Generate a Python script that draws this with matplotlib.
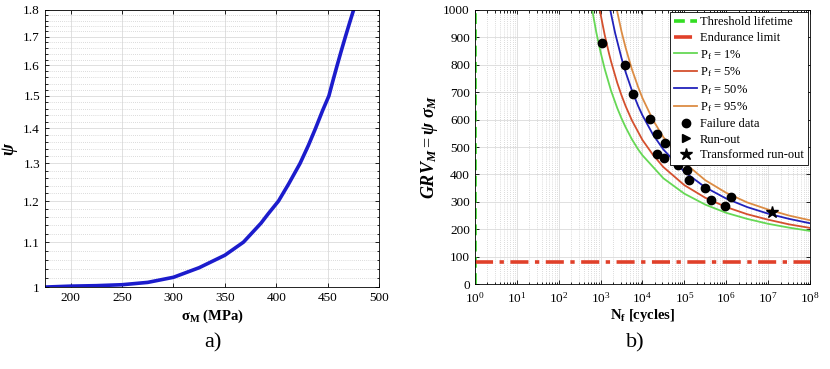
import numpy as np
import matplotlib
matplotlib.use("Agg")
import matplotlib.pyplot as plt
from matplotlib.ticker import FixedLocator, FixedFormatter, MultipleLocator, LogLocator, NullFormatter

plt.rcParams['font.family'] = ['Liberation Serif', 'DejaVu Serif']
plt.rcParams['mathtext.fontset'] = 'custom'
plt.rcParams['mathtext.rm'] = 'Liberation Serif'
plt.rcParams['mathtext.it'] = 'Liberation Serif:bold:italic'
plt.rcParams['mathtext.bf'] = 'Liberation Serif:bold'

# panel a) psi vs sigma_M
sigma_m = [175, 200, 225, 250, 275, 300, 325, 350, 368, 385, 392, 402, 412, 423, 431,
           438, 445, 451, 455, 459, 463, 467, 471, 475]
psi = [1.000, 1.002, 1.003, 1.005, 1.010, 1.021, 1.042, 1.070, 1.100, 1.145, 1.168, 1.200,
       1.245, 1.300, 1.350, 1.400, 1.455, 1.500, 1.550, 1.600, 1.650, 1.700, 1.750, 1.800]
psi_ticks = [1.0, 1.1, 1.2, 1.3, 1.4, 1.5, 1.6, 1.7, 1.8]
psi_ticklabels = ['1', '1.1', '1.2', '1.3', '1.4', '1.5', '1.6', '1.7', '1.8']

# panel b) GRV_M vs N_f, curves read at log10(N) positions
logn_p1 = [2.8, 2.9, 3.0, 3.1, 3.25, 3.4, 3.5, 3.6, 3.75, 3.9, 4.0, 4.5, 5.0, 5.5, 6.0, 6.5, 7.0, 7.5, 8.0]
grv_p1 = [1002, 918, 847, 785, 706, 642, 605, 572, 528, 491, 470, 386, 330, 290, 260, 238, 220, 206, 194]
logn_p5 = [2.95, 3.0, 3.1, 3.2, 3.25, 3.4, 3.5, 3.6, 3.75, 4.0, 4.25, 4.5, 5.0, 5.5, 6.0, 6.5, 7.0, 7.5, 8.0]
grv_p5 = [1029, 986, 909, 843, 813, 734, 689, 649, 597, 526, 472, 427, 361, 315, 281, 255, 235, 218, 205]
logn_p50 = [3.2, 3.25, 3.35, 3.5, 3.6, 3.75, 3.9, 4.0, 4.25, 4.5, 5.0, 5.5, 6.0, 6.5, 7.0, 7.5, 8.0]
grv_p50 = [1026, 987, 915, 825, 773, 706, 649, 616, 546, 491, 410, 353, 312, 281, 257, 238, 222]
logn_p95 = [3.35, 3.5, 3.6, 3.75, 3.9, 4.0, 4.25, 4.5, 5.0, 5.5, 6.0, 6.5, 7.0, 7.5, 8.0]
grv_p95 = [1029, 922, 862, 783, 718, 679, 599, 536, 443, 379, 333, 298, 272, 250, 233]

logn_fail = [3.03, 3.59, 3.78, 4.18, 4.34, 4.53, 4.355, 4.51, 4.86, 5.06, 5.10, 5.49, 5.63, 5.96, 6.12]
grv_fail = [879, 800, 694, 603, 546, 516, 476, 459, 433, 415, 379, 350, 306, 286, 317]
logn_runout = []
grv_runout = []
logn_transformed = [7.09]
grv_transformed = [263]

threshold_n = 1
endurance_limit = 80

fig = plt.figure(figsize=(8.30, 3.69), dpi=100)
ax1 = fig.add_axes([0.054, 0.222, 0.403, 0.751])
ax2 = fig.add_axes([0.572, 0.230, 0.404, 0.743])

def matlab_style(ax):
    ax.tick_params(which='both', direction='in', top=True, right=True,
                   labelsize=9.5, length=3, width=0.6)
    ax.tick_params(which='minor', length=1.8)
    for sp in ax.spines.values():
        sp.set_linewidth(0.6)
    ax.set_axisbelow(True)

# ---- a)
ax1.plot(sigma_m, psi, color='#1c1ccc', lw=2.6)
ax1.set_yscale('log')
ax1.set_xlim(175, 500)
ax1.set_ylim(1.0, 1.8)
ax1.xaxis.set_major_locator(MultipleLocator(50))
ax1.yaxis.set_major_locator(FixedLocator(psi_ticks))
ax1.yaxis.set_major_formatter(FixedFormatter(psi_ticklabels))
ax1.yaxis.set_minor_locator(FixedLocator(np.arange(1.0, 1.801, 0.02)))
ax1.yaxis.set_minor_formatter(NullFormatter())
ax1.grid(True, which='major', color='#dadada', lw=0.6)
ax1.grid(True, which='minor', axis='y', color='#cfcfcf', lw=0.6, ls=(0, (1, 1.5)))
matlab_style(ax1)
ax1.set_xlabel(r'$\mathbf{\sigma_M}$ (MPa)', fontweight='bold', fontsize=10.5, labelpad=3)
ax1.set_ylabel(r'$\psi$', fontsize=13, labelpad=2)

# ---- b)
n = lambda v: [10 ** e for e in v]
ax2.axvline(threshold_n, color='#33dd22', lw=2.6, ls=(0, (3, 1.5)), label='Threshold lifetime')
ax2.axhline(endurance_limit, color='#e0402a', lw=2.6, ls=(0, (5, 1.8, 1.2, 1.8)), label='Endurance limit')
ax2.plot(n(logn_p1), grv_p1, color='#66d855', lw=1.3, label=r'P$_\mathrm{f}$ = 1%')
ax2.plot(n(logn_p5), grv_p5, color='#d4502e', lw=1.3, label=r'P$_\mathrm{f}$ = 5%')
ax2.plot(n(logn_p50), grv_p50, color='#2222bb', lw=1.3, label=r'P$_\mathrm{f}$ = 50%')
ax2.plot(n(logn_p95), grv_p95, color='#dc8c44', lw=1.3, label=r'P$_\mathrm{f}$ = 95%')
ax2.plot(n(logn_fail), grv_fail, 'o', color='black', ms=6, label='Failure data')
ax2.plot(n(logn_runout), grv_runout, '>', color='black', ms=6, label='Run-out')
ax2.plot(n(logn_transformed), grv_transformed, '*', color='black', ms=9, label='Transformed run-out')
ax2.set_xscale('log')
ax2.set_xlim(1, 1e8)
ax2.set_ylim(0, 1000)
ax2.xaxis.set_major_locator(LogLocator(base=10, numticks=20))
ax2.xaxis.set_minor_locator(LogLocator(base=10, subs=np.arange(2, 10), numticks=100))
ax2.xaxis.set_minor_formatter(NullFormatter())
ax2.yaxis.set_major_locator(MultipleLocator(100))
ax2.grid(True, which='major', color='#dadada', lw=0.6)
ax2.grid(True, which='minor', axis='x', color='#cfcfcf', lw=0.6, ls=(0, (1, 1.5)))
matlab_style(ax2)
ax2.tick_params(axis='x', which='major', pad=5)
ax2.set_xlabel(r'N$_\mathrm{\mathbf{f}}$ [cycles]', fontweight='bold', fontsize=10.5, labelpad=1)
ax2.set_ylabel(r'$GRV_M = \psi\ \sigma_M$', fontsize=13, labelpad=2)
leg = ax2.legend(loc='upper right', bbox_to_anchor=(1.0, 1.0), fontsize=9, frameon=True,
                 fancybox=False, edgecolor='black', framealpha=1, borderaxespad=0.2,
                 handlelength=1.9, handletextpad=0.2, labelspacing=0.3, borderpad=0.3)
leg.get_frame().set_linewidth(0.6)

fig.text(0.256, 0.07, 'a)', ha='center', va='center', fontsize=16)
fig.text(0.765, 0.07, 'b)', ha='center', va='center', fontsize=16)

fig.savefig('out.png', dpi=100)
